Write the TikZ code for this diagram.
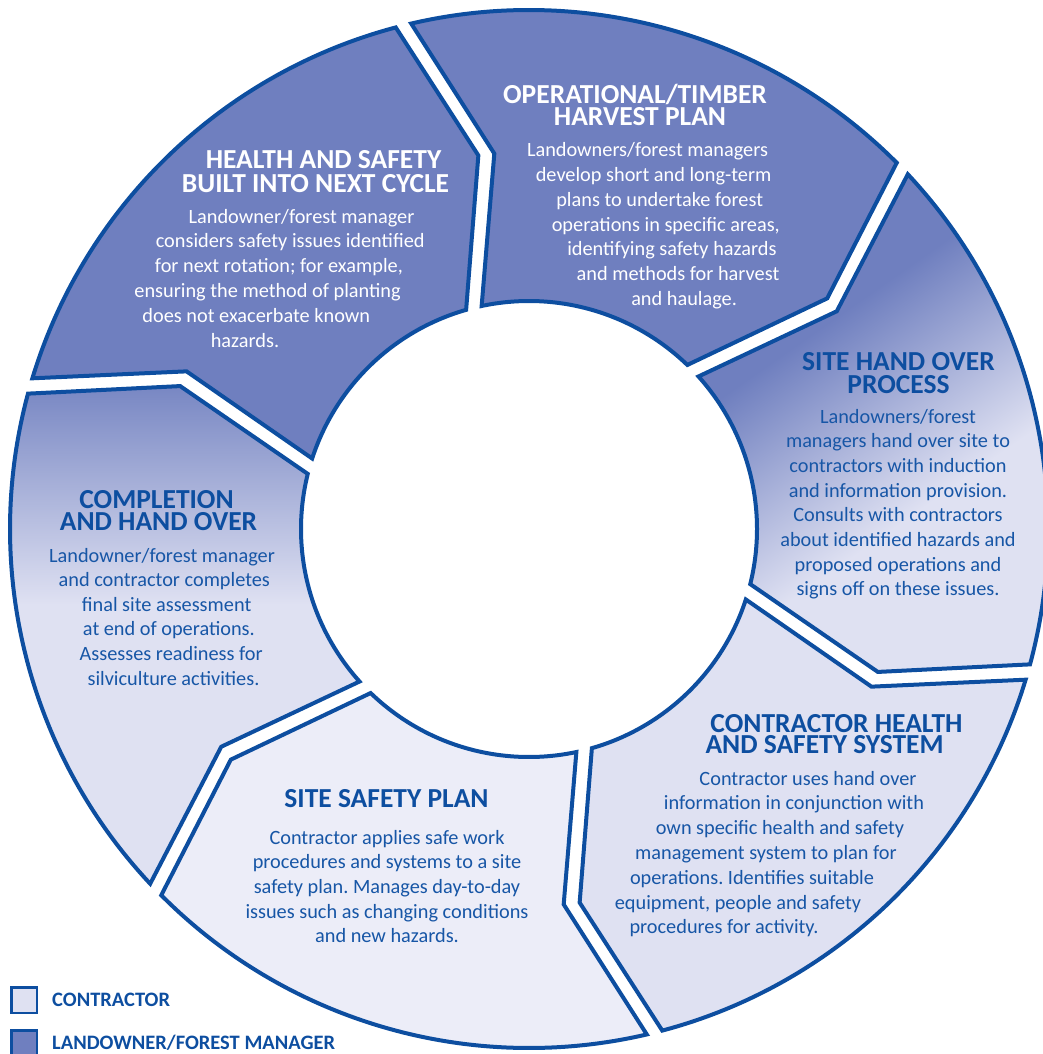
\documentclass[tikz,border=0pt]{standalone}
\usepackage{fontspec}
\setmainfont{Carlito}
\usetikzlibrary{calc,positioning}
\frenchspacing

\definecolor{ringblue}{HTML}{0D4EA0}
\definecolor{textblue}{HTML}{1756A6}
\definecolor{ownerfill}{HTML}{6F7FBF}
\definecolor{contrfill}{HTML}{DFE1F2}
\definecolor{sitefill}{HTML}{ECEDF8}

% fades for the two hand-over segments
\pgfdeclareverticalshading{handover}{100bp}{color(0bp)=(contrfill); color(40bp)=(contrfill); color(63bp)=(ownerfill); color(100bp)=(ownerfill)}
\pgfdeclareverticalshading{completion}{100bp}{color(0bp)=(contrfill); color(53bp)=(contrfill); color(75bp)=(ownerfill!92!contrfill); color(100bp)=(ownerfill!92!contrfill)}

% ring radii (pt) and half-gap offsets (deg)
\newcommand{\ringout}{519}
\newcommand{\ringbend}{377}
\newcommand{\ringin}{228}
\newcommand{\gapout}{0.88}
\newcommand{\gapbend}{1.22}
\newcommand{\gapin}{2.01}

% one segment of the ring: options, start angle (spans 60 deg)
\newcommand{\ringseg}[2]{%
  \path[seg, #1] (#2+\gapout:\ringout)
    arc[start angle=#2+\gapout, end angle=#2+60-\gapout, radius=\ringout]
    -- (#2+67.5-\gapbend:\ringbend) -- (#2+60-\gapin:\ringin)
    arc[start angle=#2+60-\gapin, end angle=#2+\gapin, radius=\ringin]
    -- (#2+7.5+\gapbend:\ringbend) -- cycle;}

% a block of text lines: style, name, x, baseline, x step, line step, lines
\newcommand{\textlines}[7]{%
  \foreach \linetext [count=\i from 0] in {#7}
    \node[#1] (#2\i) at ({#3+\i*(#5)}, {#4+\i*(#6)}) {\linetext};}

% fixed first-line height for the headings (top of node = baseline - 21pt)
\newcommand{\headstrut}{\rule{0pt}{21pt}}

\begin{document}
\begin{tikzpicture}[
    x=1pt, y=-1pt,
    seg/.style={draw=ringblue, line width=4pt, line join=miter},
    head/.style={font=\bfseries\fontsize{27.5}{22.5}\selectfont, anchor=north, inner sep=0pt,
      align=center},
    body/.style={font=\fontsize{20.3}{24}\selectfont, anchor=base, inner sep=0pt},
    legbox/.style={draw=ringblue, line width=2.5pt, minimum size=25.5pt, inner sep=0pt},
    legtext/.style={font=\bfseries\fontsize{20.5}{20.5}\selectfont, text=ringblue, inner sep=0pt,
      text height=13pt, text depth=0pt, anchor=west}
]
    \useasboundingbox (0,0) rectangle (1043,1054);

    % the six segments, clockwise from the right
    \begin{scope}[shift={(529,529)}]
        \ringseg{fill=contrfill}{16}
        \ringseg{fill=sitefill}{76}
        \ringseg{shading=completion}{136}
        \ringseg{fill=ownerfill}{196}
        \ringseg{fill=ownerfill}{256}
        \ringseg{shading=handover, shading angle=35}{316}
    \end{scope}

    % health and safety built into next cycle
    \node[head, white] (hshead) at (319.5,147)
        {\headstrut HEALTH AND SAFETY\hspace*{-8pt}\\[1.5pt]\hspace*{-8pt}BUILT INTO NEXT CYCLE};
    \textlines{body, white}{hsb}{301.5}{223}{-11.3}{24.8}{{Landowner/forest manager},
        {considers safety issues identified}, {for next rotation; for example,},
        {ensuring the method of planting}, {does not exacerbate known}, {hazards.}}

    % operational / timber harvest plan
    \node[head, white] (ophead) at (637.5,82)
        {\headstrut\hspace*{-5pt}OPERATIONAL/TIMBER\\HARVEST PLAN\hspace*{-5pt}};
    \textlines{body, white}{opb}{647.5}{157}{6.1}{24.7}{{Landowners/forest managers},
        {develop short and long-term}, {plans to undertake forest},
        {operations in specific areas,}, {identifying safety hazards},
        {and methods for harvest}, {and haulage.}}

    % site hand over process
    \node[head, ringblue] (hohead) at (898.5,349)
        {\headstrut SITE HAND OVER\\[0.5pt]PROCESS};
    \textlines{body, textblue}{hob}{898}{423}{0}{24.7}{{Landowners/forest},
        {managers hand over site to}, {contractors with induction},
        {and information provision.}, {Consults with contractors},
        {about identified hazards and}, {proposed operations and},
        {signs off on these issues.}}

    % contractor health and safety system
    \node[head, ringblue] (chhead) at (830.5,711)
        {\headstrut CONTRACTOR HEALTH\hspace*{-12pt}\\[-1pt]\hspace*{-12pt}AND SAFETY SYSTEM};
    \textlines{body, textblue}{chb}{808}{785}{-14}{24.8}{{Contractor uses hand over},
        {information in conjunction with}, {own specific health and safety},
        {management system to plan for}, {operations. Identifies suitable},
        {equipment, people and safety}, {procedures for activity.}}

    % site safety plan
    \node[head, ringblue] (sshead) at (386.5,786) {\headstrut SITE SAFETY PLAN};
    \textlines{body, textblue}{ssb}{387}{844}{0}{24.7}{{Contractor applies safe work},
        {procedures and systems to a site}, {safety plan. Manages day-to-day},
        {issues such as changing conditions}, {and new hazards.}}

    % completion and hand over
    \node[head, ringblue] (cohead) at (157.5,487)
        {\headstrut\hspace*{-2pt}COMPLETION\\[-0.5pt]AND HAND OVER\hspace*{-2pt}};
    \textlines{body, textblue}{cob}{162}{562}{2.3}{24.6}{{Landowner/forest manager},
        {and contractor completes}, {final site assessment},
        {at end of operations.}, {Assesses readiness for}, {silviculture activities.}}

    % key
    \node[legbox, fill=contrfill] (keycontr) at (24,1000) {};
    \node[legtext, right=14pt of keycontr] (keycontrtext) {CONTRACTOR};
    \node[legbox, fill=ownerfill] (keyowner) at (24,1043) {};
    \node[legtext, right=14pt of keyowner] (keyownertext) {LANDOWNER/FOREST MANAGER};
\end{tikzpicture}
\end{document}
